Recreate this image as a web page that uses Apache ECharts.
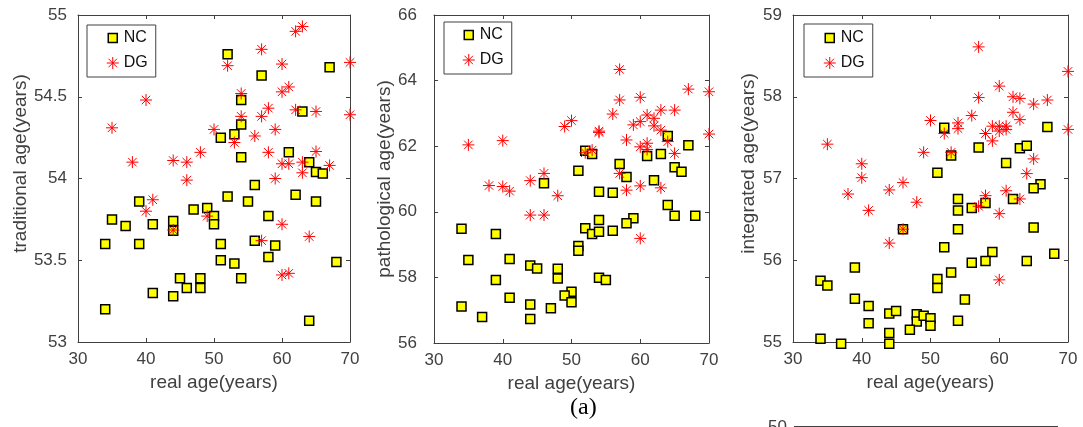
<!DOCTYPE html>
<html>
<head>
<meta charset="utf-8">
<script src="https://cdn.jsdelivr.net/npm/echarts@6/dist/echarts.min.js"></script>
<style>html,body{margin:0;padding:0;background:#fff;}#chart{width:1083px;height:427px;}</style>
</head>
<body>
<div id="chart"></div>
<script>
// ---- data: [real age, estimated age] ----
const ncTraditional = [
  [52,54.76],[57,54.63],[67,54.68],[54,54.48],[63,54.41],[54,54.33],[51,54.25],[53,54.27],
  [54,54.13],[61,54.16],[64,54.10],[65,54.04],[66,54.03],[56,53.96],[52,53.89],[62,53.90],
  [39,53.86],[55,53.86],[65,53.86],[47,53.81],[49,53.82],[50,53.77],[50,53.72],[35,53.75],
  [37,53.71],[41,53.72],[44,53.74],[44,53.68],[58,53.77],[56,53.62],[59,53.59],[34,53.60],
  [39,53.60],[51,53.60],[51,53.50],[53,53.48],[58,53.52],[68,53.49],[45,53.39],[54,53.39],
  [48,53.39],[48,53.33],[46,53.33],[41,53.30],[44,53.28],[34,53.20],[64,53.13]
];
const dgTraditional = [
  [62,54.90],[63,54.93],[57,54.79],[60,54.70],[52,54.69],[70,54.71],[60,54.53],[61,54.56],
  [54,54.52],[40,54.48],[58,54.43],[57,54.38],[54,54.38],[62,54.42],[65,54.41],[70,54.39],
  [35,54.31],[50,54.30],[59,54.30],[56,54.26],[53,54.22],[58,54.16],[65,54.165],[48,54.16],
  [38,54.10],[44,54.11],[46,54.10],[60,54.09],[61,54.09],[63,54.10],[63,54.035],[67,54.08],
  [59,54.00],[46,53.99],[41,53.87],[40,53.80],[49,53.77],[44,53.685],[60,53.72],[64,53.645],
  [57,53.62],[60,53.41],[61,53.42]
];
const ncPathological = [
  [64,62.31],[67,62.03],[52,61.86],[53,61.76],[61,61.70],[63,61.76],[57,61.46],[65,61.36],
  [66,61.22],[51,61.25],[58,61.06],[62,60.96],[46,60.87],[54,60.61],[56,60.58],[64,60.21],
  [65,59.88],[68,59.88],[54,59.75],[59,59.80],[58,59.65],[52,59.50],[53,59.32],[54,59.39],
  [56,59.42],[34,59.48],[39,59.32],[51,58.96],[51,58.81],[35,58.53],[41,58.56],[44,58.36],
  [45,58.27],[48,58.26],[48,57.97],[39,57.92],[54,57.99],[55,57.92],[50,57.56],[49,57.45],
  [50,57.24],[41,57.38],[34,57.11],[44,57.17],[47,57.06],[37,56.79],[44,56.73]
];
const dgPathological = [
  [35,62.04],[40,62.17],[57,64.34],[57,63.41],[60,63.49],[67,63.74],[70,63.66],[56,62.98],
  [50,62.78],[49,62.60],[61,62.95],[62,62.85],[59,62.65],[60,62.75],[62,62.62],[63,63.10],
  [65,63.10],[63,62.49],[54,62.42],[54,62.46],[70,62.37],[58,62.19],[60,61.98],[61,62.09],
  [61,61.90],[64,62.14],[65,61.78],[52,61.80],[53,61.88],[46,61.17],[57,61.17],[44,60.95],
  [38,60.80],[40,60.77],[41,60.63],[48,60.49],[58,60.66],[60,60.79],[63,60.73],[44,59.90],
  [46,59.90],[60,59.19]
];
const ncIntegrated = [
  [52,57.62],[67,57.63],[57,57.38],[63,57.37],[64,57.40],[53,57.28],[61,57.19],[51,57.07],
  [66,56.93],[65,56.88],[54,56.75],[62,56.75],[58,56.70],[54,56.61],[56,56.64],[46,56.38],
  [54,56.38],[65,56.40],[52,56.16],[59,56.10],[58,55.99],[56,55.97],[64,55.99],[68,56.08],
  [39,55.91],[53,55.85],[34,55.75],[35,55.69],[51,55.77],[51,55.66],[39,55.53],[55,55.52],
  [41,55.44],[41,55.23],[54,55.26],[44,55.35],[45,55.38],[48,55.34],[48,55.25],[49,55.32],
  [50,55.29],[50,55.20],[47,55.15],[44,55.11],[34,55.04],[37,54.98],[44,54.98]
];
const dgIntegrated = [
  [57,58.61],[70,58.31],[60,58.13],[57,57.99],[62,58.00],[63,57.98],[67,57.96],[65,57.91],
  [62,57.81],[56,57.77],[63,57.72],[50,57.71],[54,57.68],[54,57.61],[59,57.64],[60,57.64],
  [61,57.64],[60,57.58],[61,57.60],[70,57.60],[58,57.55],[52,57.55],[59,57.46],[35,57.42],
  [49,57.32],[53,57.32],[65,57.24],[40,57.18],[64,57.06],[40,57.01],[46,56.95],[38,56.81],
  [44,56.86],[48,56.71],[41,56.61],[57,56.66],[58,56.79],[61,56.85],[63,56.75],[60,56.57],
  [46,56.38],[44,56.21],[60,55.76]
];
const seriesNames = ['NC', 'DG'];
const xName = 'real age(years)';
const yNames = ['traditional age(years)', 'pathological age(years)', 'integrated age(years)'];
const xTicks = {min: 30, max: 70, interval: 10};
const yTicks = [
  {min: 53, max: 55, interval: 0.5},
  {min: 56, max: 66, interval: 2},
  {min: 55, max: 59, interval: 1}
];

// ---- styling ----
const FONT = "'Liberation Sans', Arial, Helvetica, sans-serif";
const AX = '#404040';
const starPath = 'path://M6,0L6,12M0,6L12,6M1.76,1.76L10.24,10.24M1.76,10.24L10.24,1.76';
const ncIcon = 'path://M0,0M12,12M1.5,1.5L10.5,1.5L10.5,10.5L1.5,10.5Z';

const grids = [
  {left: 78, top: 15, width: 272, height: 327},
  {left: 434, top: 15, width: 275, height: 328},
  {left: 793, top: 15, width: 275, height: 327}
];
const yNameGap = [47, 29, 35];
const yLabelMargin = [11, 17, 11];
const yNamePad = [[0,0,0,30],[0,0,0,0],[0,0,0,30]];
const legends = [
  {left: 87, top: 25, padding: [5, 8, 6, 19], itemTextGap: 18, itemGap: 9},
  {left: 444, top: 22, padding: [5, 8, 6, 18], itemTextGap: 16, itemGap: 9},
  {left: 804, top: 24, padding: [6, 8, 6, 19], itemTextGap: 16, itemGap: 9}
];

function axisCommon() {
  return {
    axisLine: {show: true, onZero: false, lineStyle: {color: AX, width: 1}},
    axisTick: {show: true, inside: true, length: 4, lineStyle: {color: AX, width: 1}},
    splitLine: {show: false},
    axisLabel: {color: AX, fontSize: 17, fontFamily: FONT}
  };
}

const xAxis = [], yAxis = [], series = [], legend = [];
const ncData = [ncTraditional, ncPathological, ncIntegrated];
const dgData = [dgTraditional, dgPathological, dgIntegrated];

for (let i = 0; i < 3; i++) {
  xAxis.push(Object.assign(axisCommon(), {
    type: 'value', gridIndex: i, position: 'bottom',
    min: xTicks.min, max: xTicks.max, interval: xTicks.interval,
    name: xName, nameLocation: 'middle', nameGap: 29,
    nameTextStyle: {color: AX, fontSize: 19, fontFamily: FONT}
  }));
  xAxis[xAxis.length - 1].axisLabel.margin = 9;
  yAxis.push(Object.assign(axisCommon(), {
    type: 'value', gridIndex: i, position: 'left',
    min: yTicks[i].min, max: yTicks[i].max, interval: yTicks[i].interval,
    name: yNames[i], nameLocation: 'middle', nameGap: yNameGap[i],
    nameTextStyle: {color: AX, fontSize: 19, fontFamily: FONT, padding: yNamePad[i]}
  }));
  yAxis[yAxis.length - 1].axisLabel.margin = yLabelMargin[i];
}
for (let i = 0; i < 3; i++) {
  const xt = axisCommon(); xt.axisLabel.show = false;
  xAxis.push(Object.assign(xt, {type: 'value', gridIndex: i, position: 'top',
    min: xTicks.min, max: xTicks.max, interval: xTicks.interval}));
  const yt = axisCommon(); yt.axisLabel.show = false;
  yAxis.push(Object.assign(yt, {type: 'value', gridIndex: i, position: 'right',
    min: yTicks[i].min, max: yTicks[i].max, interval: yTicks[i].interval}));
}
for (let i = 0; i < 3; i++) {
  series.push({
    name: seriesNames[0], type: 'scatter', xAxisIndex: i, yAxisIndex: i, clip: false,
    data: ncData[i], symbol: 'rect', symbolSize: 9,
    itemStyle: {color: '#ffff00', borderColor: '#000000', borderWidth: 1.5, opacity: 1},
    emphasis: {disabled: true}
  });
  series.push({
    name: seriesNames[1], type: 'scatter', xAxisIndex: i, yAxisIndex: i, clip: false,
    data: dgData[i], symbol: starPath, symbolSize: 12,
    itemStyle: {color: 'rgba(0,0,0,0)', borderColor: '#ff0000', borderWidth: 1, opacity: 1},
    emphasis: {disabled: true}
  });
  legend.push(Object.assign({
    orient: 'vertical', itemWidth: 12, itemHeight: 12,
    borderColor: AX, borderWidth: 1, backgroundColor: '#fff', selectedMode: false,
    textStyle: {color: '#111', fontSize: 16, fontFamily: FONT},
    data: [
      {name: seriesNames[0], icon: ncIcon, itemStyle: {color: '#ffff00', borderColor: '#000', borderWidth: 1.5}},
      {name: seriesNames[1], icon: starPath, itemStyle: {color: 'rgba(0,0,0,0)', borderColor: '#ff0000', borderWidth: 1}}
    ]
  }, legends[i]));
}

const chart = echarts.init(document.getElementById('chart'), null, {renderer: 'canvas'});
chart.setOption({
  animation: false,
  backgroundColor: '#ffffff',
  grid: grids,
  xAxis: xAxis,
  yAxis: yAxis,
  legend: legend,
  series: series,
  graphic: [
    {type: 'text', left: 570, top: 396, style: {text: '(a)', fontSize: 24, fontFamily: "'Liberation Serif', 'Times New Roman', serif", fill: '#000'}},
    {type: 'text', left: 768, top: 419, style: {text: '50', fontSize: 17, fontFamily: FONT, fill: AX}},
    {type: 'line', shape: {x1: 794, y1: 426.5, x2: 1058, y2: 426.5}, style: {stroke: AX, lineWidth: 1}}
  ]
});
</script>
</body>
</html>
